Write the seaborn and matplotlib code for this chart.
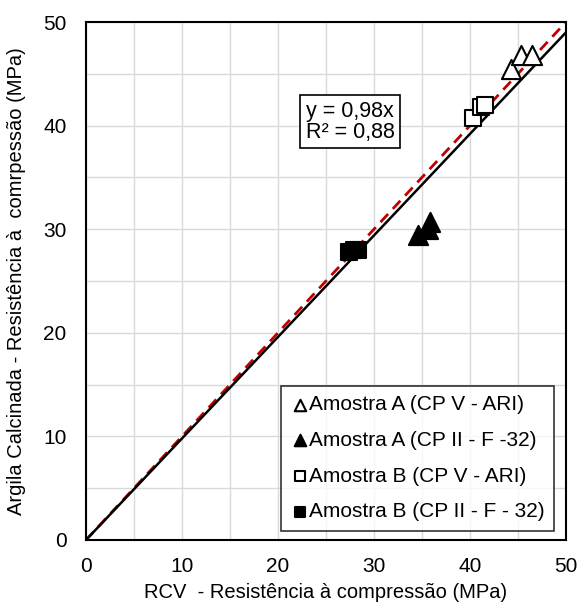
import numpy as np
import pandas as pd
import matplotlib
matplotlib.use("Agg")
import matplotlib.pyplot as plt
import seaborn as sns

# dados (MPa)
a_ari_x = [44.3, 45.3, 46.5]
a_ari_y = [45.5, 46.8, 46.8]
a_cp2_x = [34.6, 35.6, 35.8]
a_cp2_y = [29.4, 30.0, 30.7]
b_ari_x = [40.3, 41.2, 41.6]
b_ari_y = [40.7, 41.8, 42.0]
b_cp2_x = [27.4, 27.9, 28.3]
b_cp2_y = [27.8, 28.0, 28.0]
series = ["Amostra A (CP V - ARI)", "Amostra A (CP II - F -32)",
          "Amostra B (CP V - ARI)", "Amostra B (CP II - F - 32)"]
slope = 0.98

df = pd.concat([
    pd.DataFrame({"x": a_ari_x, "y": a_ari_y, "serie": series[0]}),
    pd.DataFrame({"x": a_cp2_x, "y": a_cp2_y, "serie": series[1]}),
    pd.DataFrame({"x": b_ari_x, "y": b_ari_y, "serie": series[2]}),
    pd.DataFrame({"x": b_cp2_x, "y": b_cp2_y, "serie": series[3]}),
])

sns.set_style("white")
plt.rcParams['font.family'] = ['Liberation Sans', 'DejaVu Sans']
plt.rcParams['text.color'] = 'black'
plt.rcParams['axes.labelcolor'] = 'black'
plt.rcParams['xtick.color'] = 'black'
plt.rcParams['ytick.color'] = 'black'

fig = plt.figure(figsize=(5.79, 6.03), dpi=100)
ax = fig.add_axes([0.1485, 0.1045, 0.829, 0.859])

# linhas: igualdade (vermelho tracejado) e ajuste y = 0,98x
xl = np.array([0, 50])
ax.plot(xl, xl, color="#C00000", lw=2, ls=(0, (4, 2.5)), zorder=2)
ax.plot(xl, slope * xl, color="black", lw=1.8, zorder=2)

estilos = {
    series[0]: dict(marker="^", facecolor="white", s=190),
    series[1]: dict(marker="^", facecolor="black", s=190),
    series[2]: dict(marker="s", facecolor="white", s=140),
    series[3]: dict(marker="s", facecolor="black", s=140),
}
for nome in series:
    st = estilos[nome]
    sns.scatterplot(data=df[df["serie"] == nome], x="x", y="y", ax=ax,
                    marker=st["marker"], s=st["s"], color=st["facecolor"],
                    edgecolor="black", linewidth=1.5, label=nome, zorder=3)

ax.set_xlim(0, 50)
ax.set_ylim(0, 50)
ax.set_xticks(range(0, 51, 10))
ax.set_yticks(range(0, 51, 10))
ax.set_xticks(range(0, 51, 5), minor=True)
ax.set_yticks(range(0, 51, 5), minor=True)
ax.grid(True, which="both", color="#d9d9d9", lw=1)
ax.set_axisbelow(True)
ax.tick_params(labelsize=15, length=0, labelcolor="black")
ax.tick_params(axis="x", pad=12)
ax.tick_params(axis="y", pad=14)
for sp in ax.spines.values():
    sp.set_color("black")
    sp.set_linewidth(1.5)

ax.set_xlabel("RCV  - Resistência à compressão (MPa)", fontsize=14.5, labelpad=5, color="black")
ax.set_ylabel("Argila Calcinada - Resistência à  comrpessão (MPa)", fontsize=14.5, labelpad=12, color="black")

ax.text(0.458, 0.848, "y = 0,98x\nR² = 0,88", transform=ax.transAxes,
        fontsize=15.5, va="top", ha="left", linespacing=1.0, color="black",
        bbox=dict(facecolor="white", edgecolor="black", lw=1.2, pad=4), zorder=4)

leg = ax.legend(loc="lower right", fontsize=15, frameon=True, fancybox=False,
                edgecolor="black", handletextpad=0.0, borderpad=0.45,
                labelspacing=0.8, markerscale=0.6, handlelength=0.9,
                borderaxespad=0.45, bbox_to_anchor=(0.995, 0.0))
leg.get_frame().set_linewidth(1.2)
for t in leg.get_texts():
    t.set_color("black")

plt.savefig("out.png", dpi=100)
